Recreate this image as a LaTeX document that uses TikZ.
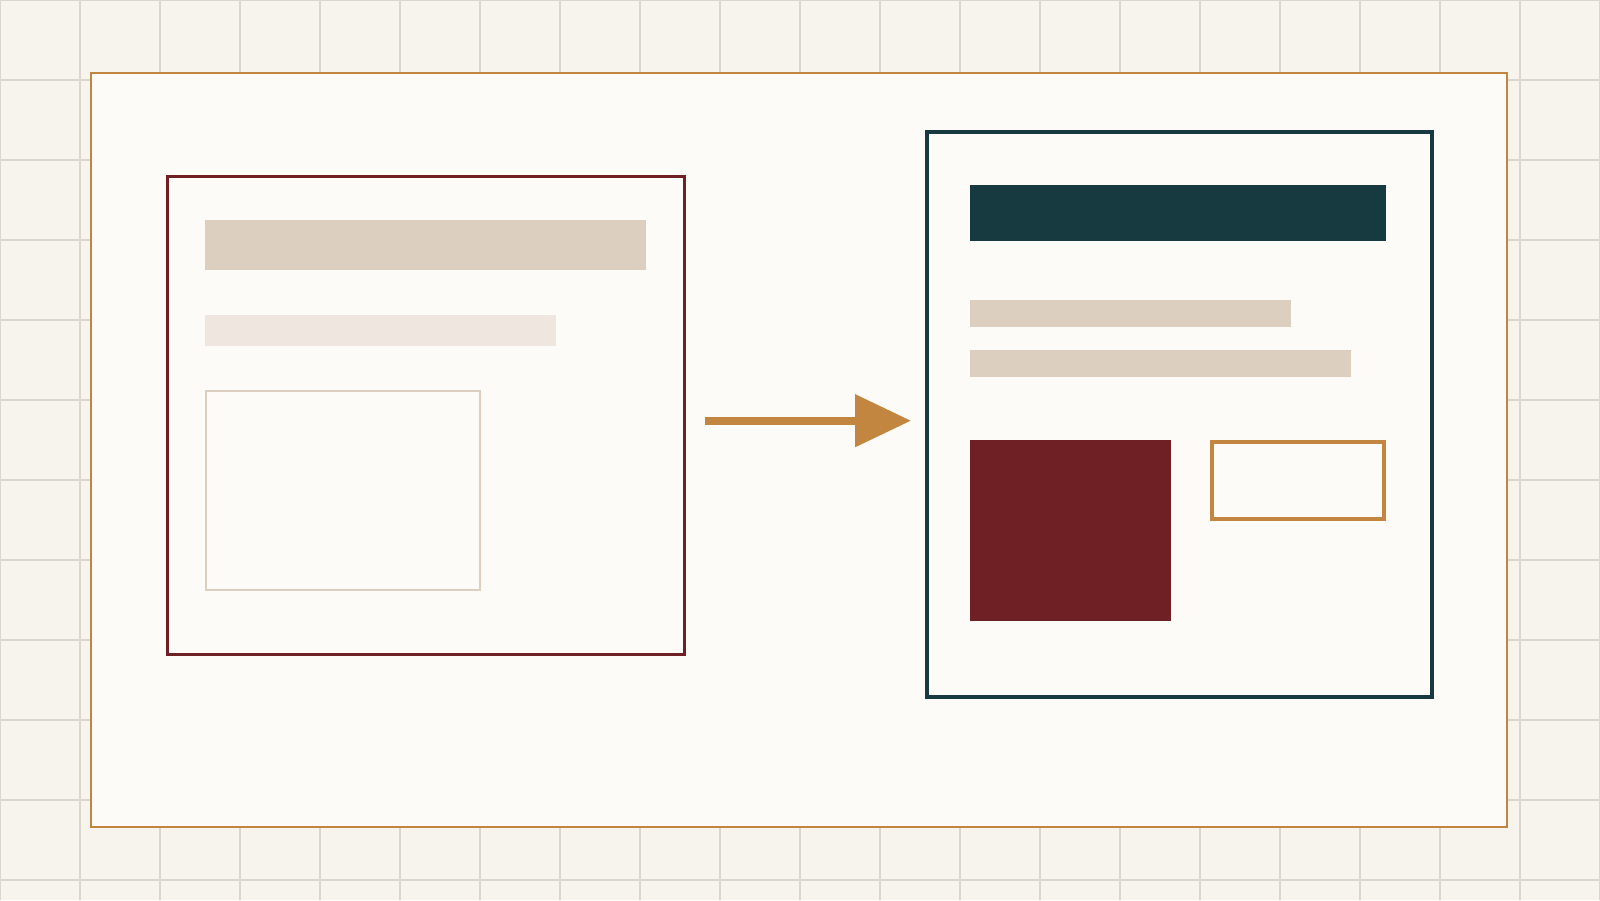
\documentclass[tikz,border=0pt]{standalone}
\usetikzlibrary{arrows.meta}
\definecolor{bgc}{HTML}{F7F4EE}
\definecolor{gridc}{HTML}{DDD6CC}
\definecolor{panelc}{HTML}{FCFBF7}
\definecolor{orangec}{HTML}{C38641}
\definecolor{redc}{HTML}{6E2024}
\definecolor{tealc}{HTML}{163A3F}
\definecolor{tanc}{HTML}{DDCFC0}
\definecolor{lightc}{HTML}{EFE7DF}
\tikzset{
  blk/.style={rectangle, inner sep=0pt, outer sep=0pt, anchor=north west},
}
\begin{document}
\begin{tikzpicture}[x=1pt,y=-1pt]
\useasboundingbox (0,0) rectangle (1600,900);
\fill[bgc] (0,0) rectangle (1600,900);
\draw[gridc, line width=1.2pt] (0,0) grid[step=80pt] (1600,900);
% outer frame
\node[blk, draw=orangec, fill=panelc, line width=2pt, minimum width=1416pt, minimum height=754pt] (frame) at (91,73) {};
% left panel
\node[blk, draw=redc, line width=3pt, minimum width=517pt, minimum height=478pt] (lbox) at (167.5,176.5) {};
\node[blk, fill=tanc, minimum width=441pt, minimum height=50pt] (ltitle) at (205,220) {};
\node[blk, fill=lightc, minimum width=351pt, minimum height=31pt] (lline) at (205,315) {};
\node[blk, draw=tanc, line width=2pt, minimum width=274pt, minimum height=199pt] (limg) at (206,391) {};
% right panel
\node[blk, draw=tealc, line width=4pt, minimum width=505pt, minimum height=565pt] (rbox) at (927,132) {};
\node[blk, fill=tealc, minimum width=416pt, minimum height=56pt] (rtitle) at (970,185) {};
\node[blk, fill=tanc, minimum width=321pt, minimum height=27pt] (rline1) at (970,300) {};
\node[blk, fill=tanc, minimum width=381pt, minimum height=27pt] (rline2) at (970,350) {};
\node[blk, fill=redc, minimum width=201pt, minimum height=181pt] (rimg) at (970,440) {};
\node[blk, draw=orangec, line width=3.5pt, minimum width=172pt, minimum height=77pt] (rbtn) at (1212,442) {};
% arrow
\coordinate (a1) at (705,420.7);
\coordinate (a2) at (911,420.7);
\draw[orangec, line width=8pt, -{Triangle[length=56pt,width=51pt]}] (a1) -- (a2);
\end{tikzpicture}
\end{document}
